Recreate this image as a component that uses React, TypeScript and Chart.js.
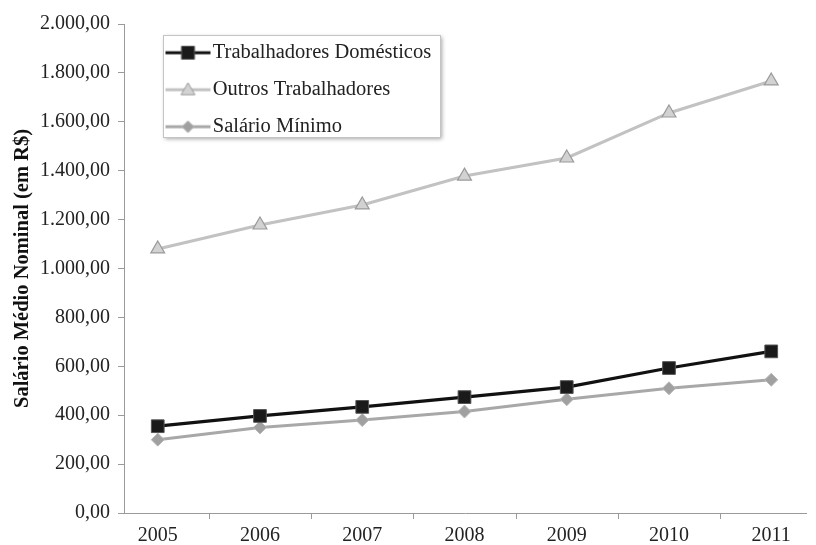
import React, { useEffect, useRef } from 'react';
import { Chart, registerables } from 'chart.js';

Chart.register(...registerables);

const years = [2005, 2006, 2007, 2008, 2009, 2010, 2011];
const yearLabels = ['2005', '2006', '2007', '2008', '2009', '2010', '2011'];
const domesticos = [355, 397, 434, 474, 515, 593, 661];
const outrosTrabalhadores = [1080, 1178, 1260, 1378, 1452, 1636, 1767];
const salarioMinimo = [300, 350, 380, 415, 465, 510, 545];
const yTicks = [0, 200, 400, 600, 800, 1000, 1200, 1400, 1600, 1800, 2000];
const seriesNames = ['Trabalhadores Domésticos', 'Outros Trabalhadores', 'Salário Mínimo'];
const yTitle = 'Salário Médio Nominal (em R$)';

const FONT = '"Liberation Serif", "Times New Roman", serif';

function fmtBR(v: number): string {
  const s = Math.round(v).toString();
  const withDots = s.replace(/\B(?=(\d{3})+(?!\d))/g, '.');
  return withDots + ',00';
}

function makeIcon(kind: string, lineColor: string, fill: string, stroke: string): HTMLCanvasElement {
  const c = document.createElement('canvas');
  c.width = 80;
  c.height = 20;
  const ctx = c.getContext('2d')!;
  ctx.strokeStyle = lineColor;
  ctx.lineWidth = 3;
  ctx.beginPath();
  ctx.moveTo(34, 10);
  ctx.lineTo(79, 10);
  ctx.stroke();
  const cx = 56.5, cy = 10;
  ctx.fillStyle = fill;
  ctx.strokeStyle = stroke;
  ctx.lineWidth = 1;
  ctx.beginPath();
  if (kind === 'rect') {
    ctx.rect(cx - 6.5, cy - 6.5, 13, 13);
  } else if (kind === 'triangle') {
    ctx.moveTo(cx, cy - 7);
    ctx.lineTo(cx + 7, cy + 5);
    ctx.lineTo(cx - 7, cy + 5);
    ctx.closePath();
  } else {
    ctx.moveTo(cx, cy - 6);
    ctx.lineTo(cx + 6, cy);
    ctx.lineTo(cx, cy + 6);
    ctx.lineTo(cx - 6, cy);
    ctx.closePath();
  }
  ctx.fill();
  ctx.stroke();
  return c;
}

const legendBoxPlugin = {
  id: 'legendBox',
  beforeDraw(chart: any) {
    const { ctx, chartArea } = chart;
    const x = chartArea.left + 39;
    const y = chartArea.top + 11;
    const w = 277;
    const h = 102;
    ctx.save();
    ctx.shadowColor = 'rgba(0,0,0,0.35)';
    ctx.shadowBlur = 4;
    ctx.shadowOffsetX = 2;
    ctx.shadowOffsetY = 2;
    ctx.fillStyle = '#ffffff';
    ctx.fillRect(x, y, w, h);
    ctx.shadowColor = 'transparent';
    ctx.strokeStyle = '#c4c4c4';
    ctx.lineWidth = 1;
    ctx.strokeRect(x + 0.5, y + 0.5, w, h);
    ctx.restore();
  },
};

const halfTickPlugin = {
  id: 'halfTicks',
  afterDraw(chart: any) {
    const xs = chart.scales.x;
    const { ctx, chartArea } = chart;
    ctx.save();
    ctx.strokeStyle = '#9a9a9a';
    ctx.lineWidth = 1;
    for (let i = 0; i < years.length - 1; i++) {
      const px = Math.round(xs.getPixelForValue(years[i] + 0.5)) + 0.5;
      ctx.beginPath();
      ctx.moveTo(px, chartArea.bottom);
      ctx.lineTo(px, chartArea.bottom + 6);
      ctx.stroke();
    }
    ctx.restore();
  },
};

export default function App() {
  const ref = useRef<HTMLCanvasElement | null>(null);

  useEffect(() => {
    if (!ref.current) return;
    const icons = [
      makeIcon('rect', '#111111', '#1a1a1a', '#555555'),
      makeIcon('triangle', '#c2c2c2', '#d2d2d2', '#9a9a9a'),
      makeIcon('diamond', '#a8a8a8', '#a0a0a0', '#b8b8b8'),
    ];
    const chart = new Chart(ref.current, {
      type: 'line',
      data: {
        datasets: [
          {
            label: seriesNames[0],
            data: years.map((y, i) => ({ x: y, y: domesticos[i] })),
            borderColor: '#111111',
            borderWidth: 3.2,
            pointStyle: 'rect',
            pointRadius: 9,
            pointBackgroundColor: '#1a1a1a',
            pointBorderColor: '#555555',
            pointBorderWidth: 1,
            tension: 0,
          },
          {
            label: seriesNames[1],
            data: years.map((y, i) => ({ x: y, y: outrosTrabalhadores[i] })),
            borderColor: '#c2c2c2',
            borderWidth: 3,
            pointStyle: 'triangle',
            pointRadius: 8,
            pointBackgroundColor: '#d2d2d2',
            pointBorderColor: '#9a9a9a',
            pointBorderWidth: 1.2,
            tension: 0,
          },
          {
            label: seriesNames[2],
            data: years.map((y, i) => ({ x: y, y: salarioMinimo[i] })),
            borderColor: '#a8a8a8',
            borderWidth: 3,
            pointStyle: 'rectRot',
            pointRadius: 6.5,
            pointBackgroundColor: '#a0a0a0',
            pointBorderColor: '#b8b8b8',
            pointBorderWidth: 1,
            tension: 0,
          },
        ],
      },
      options: {
        responsive: false,
        animation: false,
        events: [],
        layout: { padding: { top: 24, right: 4, bottom: 0, left: 0 } },
        scales: {
          x: {
            type: 'linear',
            min: 2004.67,
            max: 2011.34,
            afterBuildTicks: (scale: any) => {
              scale.ticks = years.map((v) => ({ value: v }));
            },
            afterFit: (scale: any) => {
              scale.height = 32;
            },
            ticks: {
              autoSkip: false,
              maxRotation: 0,
              padding: 11,
              color: '#222222',
              font: { family: FONT, size: 20 },
              callback: (v: any) => {
                const i = years.indexOf(Number(v));
                return i >= 0 ? yearLabels[i] : '';
              },
            },
            grid: { display: true, drawOnChartArea: false, drawTicks: false, color: '#9a9a9a' },
            border: { display: true, color: '#9a9a9a', width: 1 },
          },
          y: {
            type: 'linear',
            min: 0,
            max: 2000,
            afterBuildTicks: (scale: any) => {
              scale.ticks = yTicks.map((v) => ({ value: v }));
            },
            afterFit: (scale: any) => {
              scale.width = 124;
            },
            ticks: {
              padding: 8,
              color: '#222222',
              font: { family: FONT, size: 20 },
              callback: (v: any) => fmtBR(Number(v)),
            },
            grid: { display: true, drawOnChartArea: false, drawTicks: true, tickLength: 6, color: '#9a9a9a' },
            border: { display: true, color: '#9a9a9a', width: 1 },
            title: {
              display: true,
              text: yTitle,
              color: '#111111',
              padding: { top: 10, bottom: 0 },
              font: { family: FONT, size: 20.5, weight: 'bold' },
            },
          },
        },
        plugins: {
          tooltip: { enabled: false },
          legend: {
            display: true,
            position: 'chartArea' as any,
            align: 'start',
            title: {
              display: true,
              text: ' ',
              padding: 0,
              font: { family: FONT, size: 26, lineHeight: 1.0 },
            },
            labels: {
              usePointStyle: true,
              pointStyleWidth: 62,
              padding: 16.5,
              color: '#222222',
              font: { family: FONT, size: 20.5, lineHeight: 1.0 },
              generateLabels: (ch: any) => {
                const base = Chart.defaults.plugins.legend.labels.generateLabels(ch);
                return base.map((item: any, i: number) => ({ ...item, pointStyle: icons[i] }));
              },
            },
          },
        },
      } as any,
      plugins: [legendBoxPlugin, halfTickPlugin],
    });
    return () => chart.destroy();
  }, []);

  return (
    <div style={{ position: 'absolute', left: 0, top: 0, width: 816, height: 545, background: '#ffffff' }}>
      <canvas ref={ref} width={816} height={545} />
    </div>
  );
}
